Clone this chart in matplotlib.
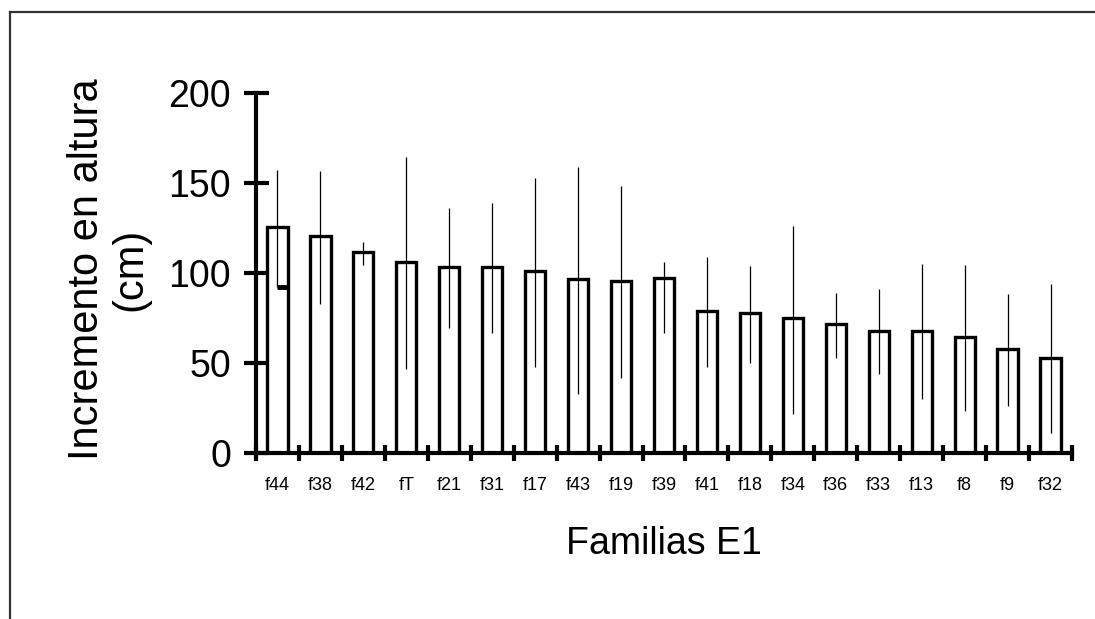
import numpy as np
import matplotlib
matplotlib.use('Agg')
import matplotlib.pyplot as plt
from matplotlib.lines import Line2D

plt.rcParams['font.family'] = ['Liberation Sans', 'DejaVu Sans']

# data
familias = ['f44', 'f38', 'f42', 'fT', 'f21', 'f31', 'f17', 'f43', 'f19', 'f39',
            'f41', 'f18', 'f34', 'f36', 'f33', 'f13', 'f8', 'f9', 'f32']
incremento = [125.7, 120.6, 111.5, 106.3, 103.1, 103.1, 101.1, 96.7, 95.7, 97.0,
              78.9, 77.6, 74.8, 71.5, 68.0, 68.0, 64.6, 58.0, 53.0]
err_alto = [157, 156.8, 117, 164.6, 136.3, 139, 153, 159, 148.3, 106.3,
            109, 103.9, 126.3, 89, 91, 104.8, 104.3, 88.3, 93.9]
err_bajo = [92.4, 83, 104.4, 46.5, 69.3, 66.5, 48, 33, 41.5, 66.5,
            47.6, 49.8, 21.5, 53, 43.7, 30, 23.5, 26, 11]

x = np.arange(len(familias))
media = np.array(incremento)
yerr = [media - np.array(err_bajo), np.array(err_alto) - media]

fig = plt.figure(figsize=(10.95, 6.19), dpi=100)
ax = fig.add_axes([256/1095, 1 - 453/619, 816/1095, 360/619])

ax.bar(x, media, width=0.47, color='white', edgecolor='black', linewidth=2.4, zorder=2)
ax.errorbar(x, media, yerr=yerr, fmt='none', ecolor='black', elinewidth=0.9,
            capsize=0, zorder=3)
# odd little cap on the first bar
ax.hlines(err_bajo[0], x[0], x[0] + 0.235, color='black', linewidth=3.5, zorder=4)

ax.set_xlim(-0.5, len(familias) - 0.5)
ax.set_ylim(0, 200)
ax.set_yticks([0, 50, 100, 150, 200])
ax.set_xticks(x)
ax.set_xticklabels(familias, fontsize=13)
ax.set_xticks(np.arange(len(familias) + 1) - 0.5, minor=True)

for s in ['top', 'right']:
    ax.spines[s].set_visible(False)
for s in ['left', 'bottom']:
    ax.spines[s].set_linewidth(3)
    ax.spines[s].set_zorder(5)

ax.tick_params(axis='y', which='major', direction='inout', length=18, width=3,
               labelsize=27, pad=9)
ax.tick_params(axis='x', which='major', length=0, pad=17)
ax.tick_params(axis='x', which='minor', direction='inout', length=11, width=3)

ax.set_xlabel('Familias E1', fontsize=27, labelpad=23)
ax.set_ylabel('Incremento en altura\n(cm)', fontsize=30, linespacing=1.1)
ax.yaxis.set_label_coords(-0.13, 0.51)

# frame around the figure (only top and left visible)
fig.add_artist(Line2D([10/1095, 1], [1 - 12/619, 1 - 12/619], color='#333333', lw=1.6,
                      transform=fig.transFigure))
fig.add_artist(Line2D([10/1095, 10/1095], [0, 1 - 12/619], color='#333333', lw=1.6,
                      transform=fig.transFigure))

fig.savefig('out.png', dpi=100)
